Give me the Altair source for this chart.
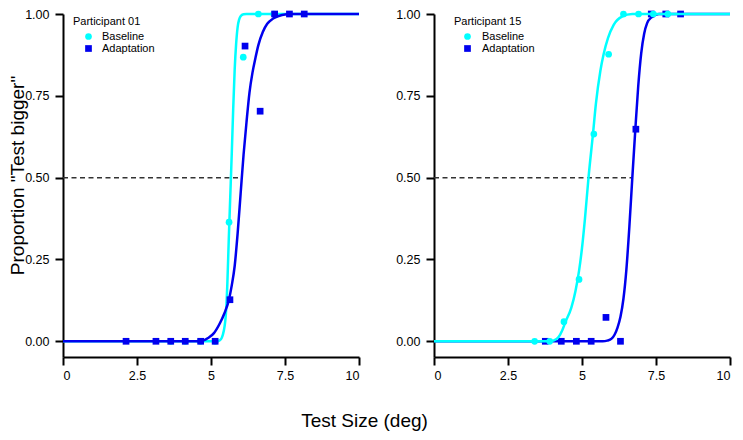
import altair as alt
import pandas as pd

CYAN = "#00FFFF"
BLUE = "#0000EE"
FONT = "Liberation Sans"
CONDS = ["Baseline", "Adaptation"]

# ---- Participant 01 ----
p01_base_x = [3.64, 4.13, 4.64, 5.14, 5.61, 6.09, 6.60, 7.12]
p01_base_y = [0, 0, 0, 0, 0.364, 0.868, 1.0, 1.0]
p01_adapt_x = [2.13, 3.14, 3.64, 4.13, 4.65, 5.14, 5.64, 6.15, 6.66, 7.15, 7.65, 8.15]
p01_adapt_y = [0, 0, 0, 0, 0, 0, 0.127, 0.902, 0.703, 1.0, 1.0, 1.0]
p01_base_curve_x = [0, 5.2, 5.3, 5.4, 5.5, 5.55, 5.6, 5.65, 5.7, 5.75, 5.8, 5.85, 5.9, 5.95, 6.0, 6.1, 6.2, 10]
p01_base_curve_y = [0, 0, 0.003, 0.02, 0.08, 0.17, 0.31, 0.44, 0.57, 0.71, 0.83, 0.91, 0.96, 0.983, 0.993, 0.999, 1, 1]
p01_adapt_curve_x = [0, 4.6, 4.75, 4.9, 5.1, 5.3, 5.45, 5.6, 5.7, 5.8, 5.9, 6.0, 6.1, 6.2, 6.3,
                     6.4, 6.5, 6.6, 6.75, 6.9, 7.1, 7.4, 7.7, 10]
p01_adapt_curve_y = [0, 0, 0.003, 0.01, 0.025, 0.055, 0.085, 0.125, 0.17, 0.23, 0.33, 0.45, 0.57, 0.67, 0.76,
                     0.82, 0.865, 0.905, 0.945, 0.97, 0.986, 0.997, 1, 1]
p01_pse = 6.05

# ---- Participant 15 ----
p15_base_x = [3.40, 3.91, 4.39, 4.90, 5.40, 5.90, 6.40, 6.91, 7.41, 7.90]
p15_base_y = [0, 0, 0.060, 0.189, 0.633, 0.877, 1.0, 1.0, 1.0, 1.0]
p15_adapt_x = [3.76, 4.30, 4.81, 5.31, 5.81, 6.30, 6.82, 7.34, 7.83, 8.33]
p15_adapt_y = [0, 0, 0, 0, 0.073, 0, 0.648, 1.0, 1.0, 1.0]
p15_base_curve_x = [0, 3.9, 4.05, 4.21, 4.33, 4.44, 4.64, 4.78, 4.9, 5.0, 5.1, 5.22, 5.37, 5.47,
                    5.62, 5.73, 5.88, 6.07, 6.35, 6.7, 10]
p15_base_curve_y = [0, 0, 0.003, 0.013, 0.033, 0.059, 0.103, 0.154, 0.215, 0.285, 0.375, 0.5, 0.633, 0.726,
                    0.826, 0.877, 0.927, 0.967, 0.992, 1, 1]
p15_adapt_curve_x = [0, 5.7, 5.85, 6.0, 6.1, 6.2, 6.3, 6.4, 6.5, 6.6, 6.7, 6.8, 6.9, 7.0, 7.1, 7.2, 7.35, 7.6, 10]
p15_adapt_curve_y = [0, 0, 0.002, 0.008, 0.02, 0.042, 0.075, 0.13, 0.22, 0.35, 0.5, 0.645, 0.78, 0.88,
                     0.94, 0.972, 0.99, 1, 1]
p15_pse = 6.68

x_ticks = [0, 2.5, 5, 7.5, 10]
y_ticks = [0, 0.25, 0.5, 0.75, 1.0]

W, H = 296, 343


def panel(base_x, base_y, adapt_x, adapt_y, bcx, bcy, acx, acy, pse,
          legend_title, show_ytitle, lx, ly, sym_off, lab_off, adapt_on_top):
    xs = alt.Scale(domain=[0, 10], nice=False, zero=False)
    ys = alt.Scale(domain=[-0.048, 1.0], nice=False, zero=False)
    xaxis = alt.Axis(values=x_ticks, format=".2~g", title=None, labelPadding=4)
    if show_ytitle:
        yaxis = alt.Axis(values=y_ticks, format=".2f", title='Proportion "Test bigger"',
                         labelPadding=6, titleX=-36, titleY=161)
    else:
        yaxis = alt.Axis(values=y_ticks, format=".2f", title=None, labelPadding=6)
    X = alt.X("x:Q", scale=xs, axis=xaxis)
    Y = alt.Y("y:Q", scale=ys, axis=yaxis)

    leg = alt.Legend(title=legend_title, orient="none", legendX=lx, legendY=ly,
                     titleFont=FONT, titleFontSize=11, titleFontWeight="normal", titleColor="black",
                     labelFont=FONT, labelFontSize=11, labelColor="black",
                     symbolSize=45, symbolOffset=sym_off, labelOffset=lab_off,
                     titlePadding=4, rowPadding=0, padding=0, symbolStrokeWidth=0)
    color = alt.Color("cond:N", scale=alt.Scale(domain=CONDS, range=[CYAN, BLUE]), legend=leg)
    shape = alt.Shape("cond:N", scale=alt.Scale(domain=CONDS, range=["circle", "square"]), legend=leg)

    rule_df = pd.DataFrame({"x": [0.0], "x1": [pse], "y": [0.5]})
    rule = alt.Chart(rule_df).mark_rule(color="#333333", strokeWidth=1.5, strokeDash=[5, 3.5]).encode(
        x=X, x2="x1:Q", y=Y)

    bcurve = alt.Chart(pd.DataFrame({"x": bcx, "y": bcy})).mark_line(
        color=CYAN, strokeWidth=2.5, interpolate="monotone").encode(x=X, y=Y)
    acurve = alt.Chart(pd.DataFrame({"x": acx, "y": acy})).mark_line(
        color=BLUE, strokeWidth=2.5, interpolate="monotone").encode(x=X, y=Y)

    bpts = alt.Chart(pd.DataFrame({"x": base_x, "y": base_y, "cond": "Baseline"})).mark_point(
        filled=True, size=45, opacity=1).encode(x=X, y=Y, color=color, shape=shape)
    apts = alt.Chart(pd.DataFrame({"x": adapt_x, "y": adapt_y, "cond": "Adaptation"})).mark_point(
        filled=True, size=45, opacity=1).encode(x=X, y=Y, color=color, shape=shape)

    if adapt_on_top:
        layers = [rule, bcurve, bpts, acurve, apts]
    else:
        layers = [rule, acurve, apts, bcurve, bpts]
    return alt.layer(*layers).properties(width=W, height=H)


left = panel(p01_base_x, p01_base_y, p01_adapt_x, p01_adapt_y,
             p01_base_curve_x, p01_base_curve_y, p01_adapt_curve_x, p01_adapt_curve_y, p01_pse,
             "Participant 01", True, 10, 2, 10, 8, True)
right = panel(p15_base_x, p15_base_y, p15_adapt_x, p15_adapt_y,
              p15_base_curve_x, p15_base_curve_y, p15_adapt_curve_x, p15_adapt_curve_y, p15_pse,
              "Participant 15", False, 20, 2, 8, 9, False)

chart = alt.hconcat(left, right, spacing=31).resolve_scale(
    color="independent", shape="independent"
).properties(
    title=alt.TitleParams("Test Size (deg)", orient="bottom", anchor="middle", font=FONT,
                          fontSize=19, fontWeight="normal", color="black", offset=30, dx=-7),
    padding={"left": 0, "top": 0, "right": 0, "bottom": 0},
).configure_view(strokeWidth=0).configure_axis(
    domainColor="black", domainWidth=2, tickColor="black", tickWidth=2, tickSize=8,
    labelFont=FONT, labelFontSize=12.5, labelColor="black", grid=False,
    titleFont=FONT, titleFontSize=19, titleFontWeight="normal", titleColor="black",
)

chart.save("out.html", embed_options={"renderer": "svg", "actions": False})
